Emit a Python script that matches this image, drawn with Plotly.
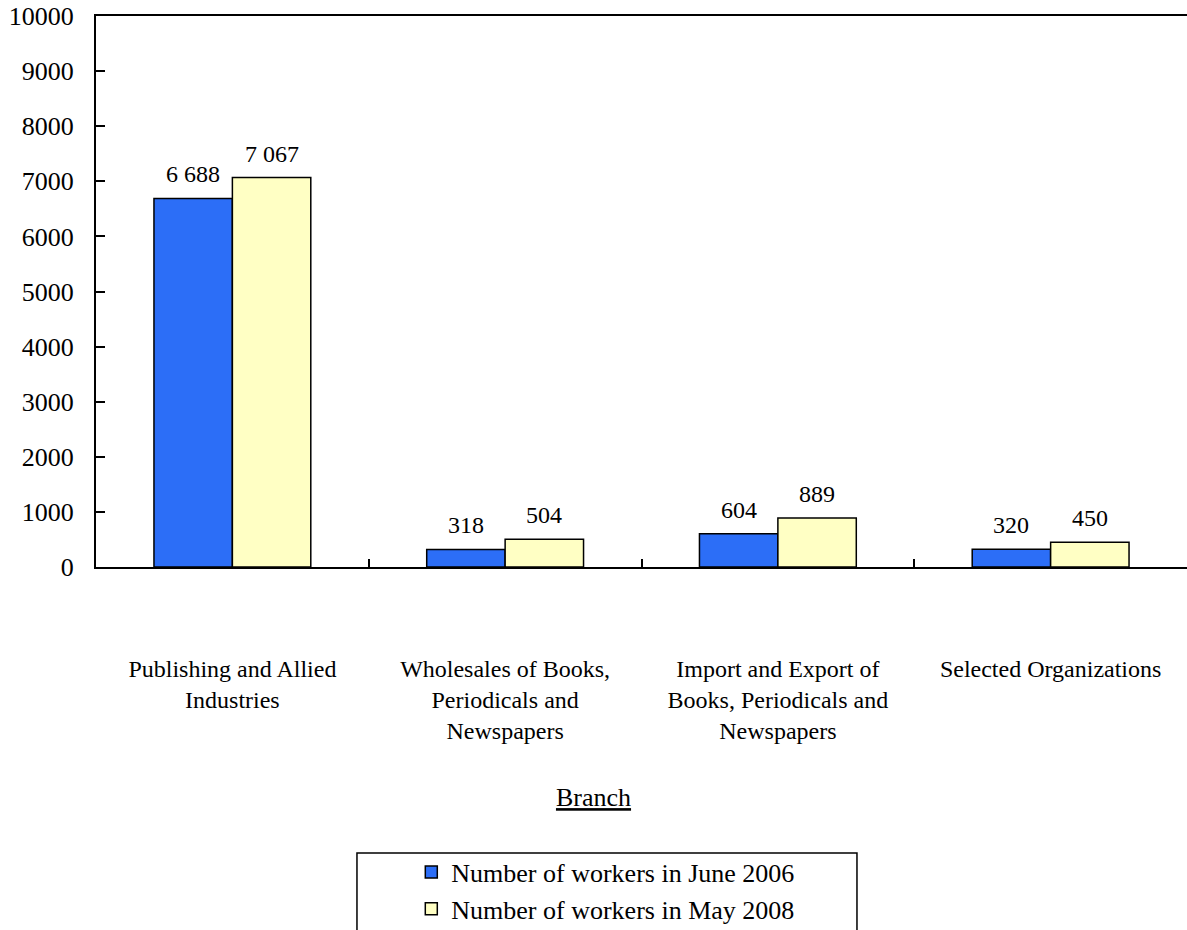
import plotly.graph_objects as go

categories = [
    "Publishing and Allied<br>Industries",
    "Wholesales of Books,<br>Periodicals and<br>Newspapers",
    "Import and Export of<br>Books, Periodicals and<br>Newspapers",
    "Selected Organizations",
]
june2006 = [6688, 318, 604, 320]
may2008 = [7067, 504, 889, 450]
series_names = ["Number of workers in June 2006", "Number of workers in May 2008"]
y_ticks = list(range(0, 10001, 1000))

FONT = "Liberation Serif"
BLUE = "#2C6EF7"
YELLOW = "#FFFFC4"
BARGAP = 0.425

fig = go.Figure()
for name, vals, col in [(series_names[0], june2006, BLUE), (series_names[1], may2008, YELLOW)]:
    fig.add_trace(go.Bar(
        x=categories, y=vals, name=name,
        marker=dict(color=col, line=dict(color="black", width=1.5)),
    ))

# value labels above bars
bw = (1 - BARGAP) / 2
annotations = []
for k, vals in enumerate([june2006, may2008]):
    off = (k - 0.5) * bw
    for i, v in enumerate(vals):
        annotations.append(dict(
            x=i + off, y=v, xref="x", yref="y",
            text=f"{v:,}".replace(",", " "),
            showarrow=False, yanchor="bottom", yshift=9,
            font=dict(family=FONT, size=24, color="black"),
        ))

fig.update_layout(
    width=1187, height=930,
    margin=dict(l=96, r=0, t=16, b=363, autoexpand=False),
    paper_bgcolor="white", plot_bgcolor="white",
    barmode="group", bargap=BARGAP, bargroupgap=0,
    font=dict(family=FONT, size=24, color="black"),
    showlegend=True,
    legend=dict(
        x=0.289, y=-0.511, xanchor="left", yanchor="top",
        bgcolor="rgba(0,0,0,0)", borderwidth=0,
        font=dict(family=FONT, size=26, color="black"),
    ),
    title=dict(text="<u>Branch</u>", x=0.5, xref="container", y=0.143, yref="container",
               xanchor="center", yanchor="middle",
               font=dict(family=FONT, size=26, color="black")),
    annotations=annotations,
    shapes=[dict(type="rect", xref="paper", yref="paper",
                 x0=0.2392, x1=0.6975, y0=-0.519, y1=-0.68,
                 line=dict(color="black", width=1.5), fillcolor="rgba(0,0,0,0)", layer="below")],
)
fig.update_xaxes(
    type="category", showline=True, linecolor="black", linewidth=2, mirror=True,
    ticks="inside", tickson="boundaries", ticklen=8, tickwidth=2, tickcolor="black",
    showgrid=False, zeroline=False, ticklabelstandoff=79,
    tickfont=dict(family=FONT, size=24, color="black"),
)
fig.update_yaxes(
    range=[0, 10000], tickvals=y_ticks, tickformat="d",
    showline=True, linecolor="black", linewidth=2, mirror=False,
    ticks="inside", ticklen=9, tickwidth=2, tickcolor="black",
    showgrid=False, zeroline=False, ticklabelstandoff=15,
    tickfont=dict(family=FONT, size=26, color="black"),
)

fig.write_html("out.html")
